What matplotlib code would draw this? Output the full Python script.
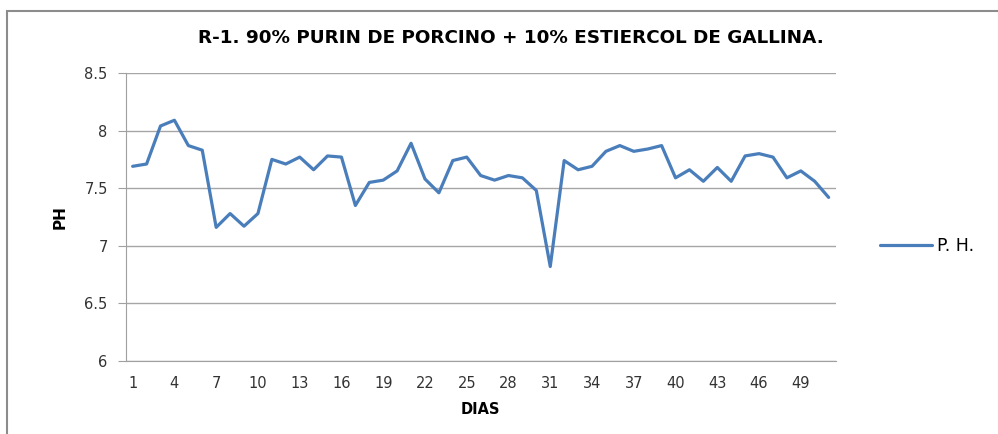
import matplotlib.pyplot as plt
from matplotlib.patches import Rectangle

# pH reading per day (days 1..51)
dias = list(range(1, 52))
ph = [7.69, 7.71, 8.04, 8.09, 7.87, 7.83, 7.16, 7.28, 7.17, 7.28,
      7.75, 7.71, 7.77, 7.66, 7.78, 7.77, 7.35, 7.55, 7.57, 7.65,
      7.89, 7.58, 7.46, 7.74, 7.77, 7.61, 7.57, 7.61, 7.59, 7.48,
      6.82, 7.74, 7.66, 7.69, 7.82, 7.87, 7.82, 7.84, 7.87, 7.59,
      7.66, 7.56, 7.68, 7.56, 7.78, 7.80, 7.77, 7.59, 7.65, 7.56,
      7.42]
xticks = list(range(1, 52, 3))
yticks = [6, 6.5, 7, 7.5, 8, 8.5]
ytick_labels = ["6", "6.5", "7", "7.5", "8", "8.5"]

W, H = 998, 434
fig = plt.figure(figsize=(W / 100, H / 100), dpi=100)

# outer chart frame
frame = Rectangle((7 / W, -0.05), 1.2, 1 - 11 / H + 0.05, transform=fig.transFigure,
                  fill=False, edgecolor="#8c8c8c", linewidth=1.5)
fig.patches.append(frame)

ax = fig.add_axes([125.7 / W, 1 - 361 / H, (835.6 - 125.7) / W, (361 - 73) / H])

ax.plot(dias, ph, color="#4a7ebb", linewidth=2.3, label="P. H.",
        solid_joinstyle="round", solid_capstyle="round")

ax.set_xlim(0.5, 51.5)
ax.set_ylim(6, 8.5)
ax.set_xticks(xticks)
ax.set_xticklabels([str(t) for t in xticks], fontsize=10.5, color="#333333")
ax.set_yticks(yticks)
ax.set_yticklabels(ytick_labels, fontsize=10.5, color="#333333")
ax.tick_params(axis="x", length=0, pad=11)
ax.tick_params(axis="y", length=6, color="#a0a0a0", pad=7)

ax.grid(axis="y", color="#a6a6a6", linewidth=1)
ax.set_axisbelow(True)
for side in ["top", "right"]:
    ax.spines[side].set_visible(False)
ax.spines["left"].set_color("#a0a0a0")
ax.spines["bottom"].set_color("#a0a0a0")

ax.set_xlabel("DIAS", fontsize=10.5, fontweight="bold", labelpad=8)
ax.set_ylabel("PH", fontsize=11, fontweight="bold", labelpad=12)

fig.text(0.512, 1 - 38 / H, "R-1. 90% PURIN DE PORCINO + 10% ESTIERCOL DE GALLINA.",
         ha="center", va="center", fontsize=13.2, fontweight="bold")

ax.legend(loc="center left", bbox_to_anchor=(1.04, 0.4), frameon=False,
          fontsize=12.5, handlelength=3.0, handletextpad=0.3)

fig.savefig("out.png", dpi=100)
